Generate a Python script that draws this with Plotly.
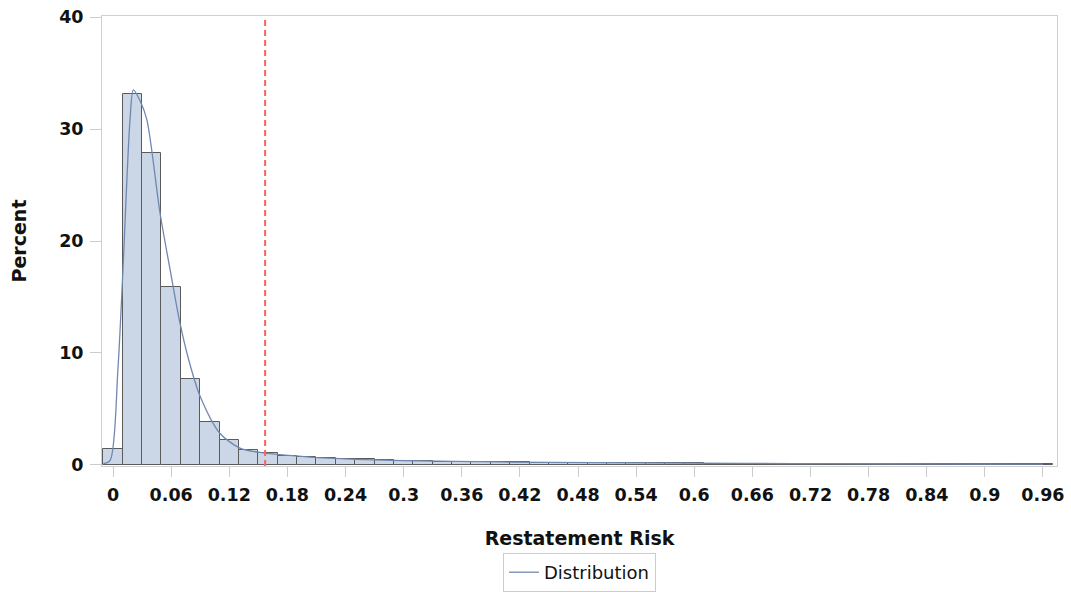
import plotly.graph_objects as go

bin_centers = [0.00, 0.02, 0.04, 0.06, 0.08, 0.10, 0.12, 0.14, 0.16, 0.18,
               0.20, 0.22, 0.24, 0.26, 0.28, 0.30, 0.32, 0.34, 0.36, 0.38,
               0.40, 0.42, 0.44, 0.46, 0.48, 0.50, 0.52, 0.54, 0.56, 0.58,
               0.60, 0.62, 0.64, 0.66, 0.68, 0.70, 0.72, 0.74, 0.76, 0.78,
               0.80, 0.82, 0.84, 0.86, 0.88, 0.90, 0.92, 0.94, 0.96]
percent = [1.4, 33.1, 27.9, 15.9, 7.7, 3.8, 2.2, 1.35, 1.05, 0.8,
           0.68, 0.6, 0.52, 0.5, 0.45, 0.35, 0.32, 0.3, 0.28, 0.26,
           0.24, 0.22, 0.21, 0.2, 0.19, 0.18, 0.17, 0.16, 0.15, 0.14,
           0.13, 0.12, 0.12, 0.11, 0.11, 0.1, 0.1, 0.09, 0.09, 0.09,
           0.08, 0.08, 0.08, 0.07, 0.07, 0.07, 0.06, 0.06, 0.06]

dens_x = [-0.01, -0.003, 0.005, 0.01, 0.0175, 0.021, 0.028, 0.035, 0.0485, 0.059,
          0.069, 0.079, 0.09, 0.11, 0.131, 0.155, 0.2, 0.25, 0.3, 0.4,
          0.5, 0.6, 0.7, 0.8, 0.9, 0.96]
dens_y = [0.1, 0.4, 8.5, 17.0, 30.8, 33.5, 32.5, 30.8, 22.5, 17.4,
          12.7, 9.1, 6.1, 2.85, 1.5, 1.07, 0.72, 0.5, 0.38, 0.26,
          0.2, 0.15, 0.12, 0.1, 0.08, 0.07]

cutoff = 0.157
x_ticks = [0, 0.06, 0.12, 0.18, 0.24, 0.3, 0.36, 0.42, 0.48, 0.54, 0.6,
           0.66, 0.72, 0.78, 0.84, 0.9, 0.96]
x_tick_labels = ["0", "0.06", "0.12", "0.18", "0.24", "0.3", "0.36", "0.42", "0.48",
                 "0.54", "0.6", "0.66", "0.72", "0.78", "0.84", "0.9", "0.96"]
y_ticks = [0, 10, 20, 30, 40]

FONT = "DejaVu Sans, Liberation Sans, Arial, sans-serif"

fig = go.Figure()
fig.add_trace(go.Bar(
    x=bin_centers, y=percent, width=0.02,
    marker=dict(color="#cbd6e6", line=dict(color="#5a5a5a", width=1)),
    showlegend=False, hoverinfo="x+y"))
fig.add_trace(go.Scatter(
    x=dens_x, y=dens_y, mode="lines", name="Distribution",
    line=dict(color="#7088b0", width=1.3, shape="spline", smoothing=0.8)))
fig.add_shape(type="line", x0=cutoff, x1=cutoff, y0=0, y1=1, yref="paper", xref="x",
              line=dict(color="#ff6060", width=2, dash="6px,4px"))

tick_font = dict(family=FONT, size=17.5, color="#111111", weight="bold")
fig.update_layout(
    width=1071, height=592,
    margin=dict(l=102, r=14, t=16, b=126),
    paper_bgcolor="white", plot_bgcolor="white",
    bargap=0,
    font=dict(family=FONT, color="#111111"),
    xaxis=dict(range=[-0.0114, 0.9745], tickvals=x_ticks, ticktext=x_tick_labels,
               ticks="outside", ticklen=10, tickcolor="#cccccc", tickwidth=1,
               ticklabelstandoff=3,
               showgrid=False, zeroline=False, automargin=False,
               showline=True, linecolor="#d0d0d0", linewidth=1, mirror=True,
               tickfont=tick_font,
               title=dict(text="<b>Restatement Risk</b>", font=dict(family=FONT, size=19), standoff=27)),
    yaxis=dict(range=[-0.1, 40.1], tickvals=y_ticks,
               ticks="outside", ticklen=11, tickcolor="#cccccc", tickwidth=1,
               ticklabelstandoff=3,
               showgrid=False, zeroline=False, automargin=False,
               showline=True, linecolor="#d0d0d0", linewidth=1, mirror=True,
               tickfont=tick_font,
               title=dict(text="<b>Percent</b>", font=dict(family=FONT, size=19), standoff=27)),
    legend=dict(orientation="h", x=0.5, xanchor="center", xref="paper",
                y=0.0, yanchor="bottom", yref="container",
                bordercolor="#cccccc", borderwidth=1,
                font=dict(family=FONT, size=18, color="#111111")),
    showlegend=True,
)

fig.write_html("out.html", config={"displayModeBar": False},
               post_script="document.body.style.margin='0px';")
